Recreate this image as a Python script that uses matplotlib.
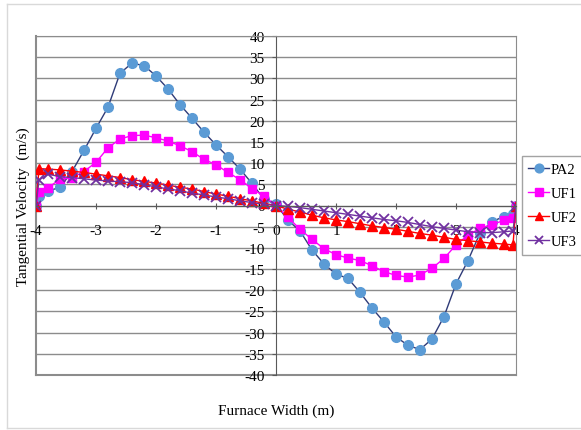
import matplotlib
matplotlib.use('Agg')
from matplotlib import pyplot as plt
from matplotlib.lines import Line2D

plt.rcParams['font.family'] = ['Liberation Serif', 'DejaVu Serif']
plt.rcParams['axes.unicode_minus'] = False

# furnace width positions (m)
x = [-4, -3.95, -3.8, -3.6, -3.4, -3.2, -3.0, -2.8, -2.6, -2.4, -2.2, -2.0,
     -1.8, -1.6, -1.4, -1.2, -1.0, -0.8, -0.6, -0.4, -0.2, 0,
     0.2, 0.4, 0.6, 0.8, 1.0, 1.2, 1.4, 1.6, 1.8, 2.0, 2.2, 2.4, 2.6, 2.8,
     3.0, 3.2, 3.4, 3.6, 3.8, 3.95, 4]

pa2 = [0, 2.3, 3.4, 4.3, 8.0, 13.0, 18.2, 23.2, 31.2, 33.6, 33.0, 30.6,
       27.5, 23.8, 20.6, 17.3, 14.3, 11.5, 8.6, 5.2, 1.5, 0.3,
       -3.5, -6.0, -10.5, -13.8, -16.2, -17.2, -20.5, -24.2, -27.5, -31.0,
       -33.0, -34.0, -31.5, -26.2, -18.5, -13.0, -6.5, -3.8, -2.6, -2.0, 0]

uf1 = [0, 3.1, 4.2, 6.2, 6.6, 8.0, 10.2, 13.6, 15.7, 16.5, 16.6, 16.0,
       15.2, 14.1, 12.7, 10.9, 9.6, 7.8, 6.1, 4.0, 2.2, 0,
       -2.8, -5.6, -8.0, -10.2, -11.6, -12.4, -13.0, -14.2, -15.6, -16.5,
       -16.9, -16.4, -14.8, -12.5, -9.3, -7.0, -5.4, -4.5, -3.5, -3.0, 0]

uf2 = [0, 8.7, 8.6, 8.4, 8.1, 7.8, 7.4, 7.0, 6.6, 6.1, 5.7, 5.3,
       4.8, 4.3, 3.9, 3.3, 2.7, 2.2, 1.6, 1.1, 0.5, 0,
       -0.9, -1.5, -2.3, -2.9, -3.4, -3.8, -4.3, -4.8, -5.2, -5.6,
       -6.1, -6.6, -7.0, -7.5, -8.0, -8.3, -8.6, -8.9, -9.1, -9.3, 0]

uf3 = [0, 6.0, 7.4, 6.8, 6.6, 6.3, 6.0, 5.8, 5.6, 5.4, 4.9, 4.4,
       3.9, 3.5, 2.9, 2.5, 2.0, 1.6, 1.1, 0.7, 0.3, 0,
       -0.2, -0.5, -0.9, -1.3, -1.7, -2.1, -2.5, -2.9, -3.3, -3.6,
       -4.0, -4.5, -5.0, -5.4, -5.8, -6.2, -6.4, -6.4, -6.2, -6.0, 0]

xticks = [-4, -3, -2, -1, 0, 1, 2, 3, 4]
yticks = list(range(-40, 45, 5))

fig = plt.figure(figsize=(5.81, 4.31), dpi=100)
ax = fig.add_axes([36/581, 1-376/431, 480/581, 339/431])

# outer chart border
fig.add_artist(Line2D([7/581, 1], [1-5/431]*2, color='#d9d9d9', lw=1))
fig.add_artist(Line2D([7/581]*2, [1-5/431, 1-429/431], color='#d9d9d9', lw=1))
fig.add_artist(Line2D([7/581, 1], [1-429/431]*2, color='#d9d9d9', lw=1))

for yv in yticks:
    ax.axhline(yv, color='#8c8c8c', lw=1, zorder=0)

ax.plot(x, pa2, color='#2f3b78', lw=1, marker='o', ms=7, mfc='#5b9bd5', mec='#5b9bd5', label='PA2')
ax.plot(x, uf1, color='#ff00ff', lw=1, marker='s', ms=6, mfc='#ff00ff', mec='#ff00ff', label='UF1')
ax.plot(x, uf2, color='#ff0000', lw=1, marker='^', ms=6.5, mfc='#ff0000', mec='#ff0000', label='UF2')
ax.plot(x, uf3, color='#7030a0', lw=1, marker='x', ms=6.5, mew=1.3, label='UF3')

ax.set_xlim(-4, 4)
ax.set_ylim(-40, 40)
ax.set_xticks(xticks)
ax.set_yticks(yticks)

ax.spines['left'].set_position(('data', 0))
ax.spines['bottom'].set_position(('data', 0))
ax.spines['left'].set_color('#595959')
ax.spines['bottom'].set_color('#595959')
ax.spines['top'].set_color('#8c8c8c')
ax.spines['right'].set_color('#8c8c8c')
ax.plot([0, 0], [0, 1], transform=ax.transAxes, color='#8c8c8c', lw=1.5, clip_on=False, zorder=0)
ax.plot([0, 1], [0, 0], transform=ax.transAxes, color='#8c8c8c', lw=1.5, clip_on=False, zorder=0)

ax.tick_params(axis='x', direction='inout', length=5, pad=11, labelsize=11, color='#595959')
ax.tick_params(axis='y', direction='out', length=3, pad=5, labelsize=11, color='#595959')

ax.set_xlabel('Furnace Width (m)', fontsize=11)
ax.xaxis.set_label_coords(0.5, -0.085)
ax.set_ylabel('Tangential Velocity  (m/s)', fontsize=11)
ax.yaxis.set_label_coords(-0.012, 0.5)

leg = ax.legend(loc='center left', bbox_to_anchor=(1.003, 0.5), fontsize=10.5,
                frameon=True, fancybox=False, edgecolor='#8c8c8c',
                handlelength=1.4, handletextpad=0.1, borderpad=0.45, labelspacing=0.75,
                borderaxespad=0.3, markerscale=0.9)
leg.get_frame().set_linewidth(1)

fig.savefig('out.png', dpi=100)
